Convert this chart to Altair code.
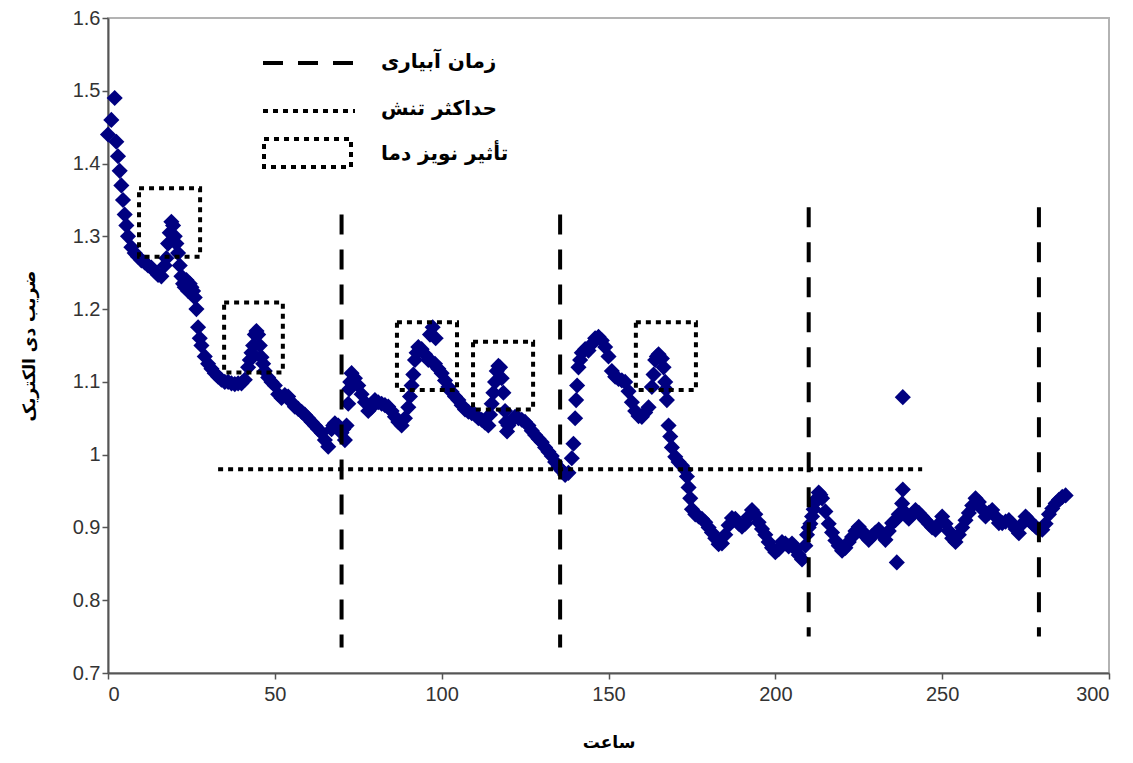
import altair as alt
import pandas as pd

# ---- data ----
hours = [0, 1, 2, 2.5, 3, 4, 5, 6, 7, 8, 9, 10, 11, 12, 13, 14, 15, 16, 17, 18, 19,
         20, 21, 22, 23, 24, 25, 26, 27, 28, 29, 30, 31, 32, 33, 34, 35, 36, 37, 38, 39,
         40, 41, 42, 43, 44, 45, 46, 47, 48, 49, 50, 51, 52, 53, 54, 55, 56, 57, 58, 59,
         60, 61, 62, 63, 64, 65, 66, 67, 68, 69, 70, 71, 72, 73, 74, 75, 76, 77, 78, 79,
         80, 81, 82, 83, 84, 85, 86, 87, 88, 89, 90, 91, 92, 93, 94, 95, 96, 96.5, 97, 97.3, 98, 98.2,
         99, 100, 101, 102, 103, 104, 105, 106, 107, 108, 109, 110, 111, 112, 113, 114, 115, 116, 117, 118, 119, 119.6,
         120, 121, 122, 123, 124, 125, 126, 127, 128, 129, 130, 131, 132, 133, 134, 135, 136, 137, 138, 139,
         140, 141, 142, 143, 144, 145, 146, 147, 148, 149, 150, 151, 152, 153, 154, 155, 156, 157, 158, 159,
         160, 161, 162, 163, 164, 165, 166, 167, 168, 169, 170, 171, 172, 173, 174, 175, 176, 177, 178, 179,
         180, 181, 182, 183, 184, 185, 186, 187, 188, 189, 190, 191, 192, 193, 194, 195, 196, 197, 198, 199,
         200, 201, 202, 203, 204, 205, 206, 207, 208, 209, 210, 211, 212, 213, 214, 215, 216, 217, 218, 219,
         220, 221, 222, 223, 224, 225, 226, 227, 228, 229, 230, 231, 232, 233, 234, 235, 236, 237, 238, 239,
         240, 241, 242, 243, 244, 245, 246, 247, 248, 249, 250, 251, 252, 253, 254, 255, 256, 257, 258, 259,
         260, 261, 262, 263, 264, 265, 266, 267, 268, 269, 270, 271, 272, 273, 274, 275, 276, 277, 278, 279,
         280, 281, 282, 283, 284, 285, 286, 287]
dielectric = [1.44, 1.46, 1.49, 1.43, 1.41, 1.37, 1.33, 1.30, 1.285, 1.277, 1.272, 1.267, 1.264, 1.26, 1.257, 1.252, 1.247, 1.245, 1.26, 1.29, 1.32,
              1.30, 1.277, 1.245, 1.23, 1.225, 1.23, 1.216, 1.175, 1.15, 1.135, 1.125, 1.118, 1.112, 1.107, 1.103, 1.10, 1.10, 1.098, 1.097, 1.098,
              1.098, 1.103, 1.12, 1.14, 1.165, 1.165, 1.134, 1.115, 1.106, 1.10, 1.095, 1.083, 1.078, 1.082, 1.08, 1.072, 1.066, 1.063, 1.059, 1.055,
              1.05, 1.045, 1.04, 1.035, 1.03, 1.02, 1.011, 1.035, 1.043, 1.04, 1.03, 1.02, 1.07, 1.112, 1.105, 1.095, 1.083, 1.072, 1.06, 1.065,
              1.075, 1.072, 1.07, 1.068, 1.066, 1.06, 1.052, 1.045, 1.04, 1.05, 1.065, 1.095, 1.13, 1.148, 1.145, 1.138, 1.13, 1.165, 1.128, 1.175, 1.125, 1.16,
              1.118, 1.112, 1.102, 1.093, 1.086, 1.08, 1.075, 1.068, 1.062, 1.059, 1.057, 1.055, 1.05, 1.048, 1.044, 1.04, 1.07, 1.10, 1.122, 1.105, 1.06, 1.032,
              1.04, 1.047, 1.052, 1.05, 1.048, 1.045, 1.04, 1.033, 1.027, 1.022, 1.017, 1.01, 1.004, 0.998, 0.99, 0.983, 0.978, 0.972, 0.975, 0.995,
              1.05, 1.12, 1.14, 1.145, 1.143, 1.152, 1.16, 1.162, 1.157, 1.148, 1.135, 1.115, 1.107, 1.104, 1.102, 1.10, 1.087, 1.072, 1.06, 1.053,
              1.052, 1.058, 1.065, 1.093, 1.13, 1.138, 1.132, 1.10, 1.04, 1.01, 0.997, 0.99, 0.985, 0.979, 0.955, 0.925, 0.918, 0.915, 0.912, 0.907,
              0.90, 0.893, 0.885, 0.877, 0.878, 0.89, 0.903, 0.913, 0.912, 0.905, 0.901, 0.905, 0.915, 0.924, 0.918, 0.907, 0.898, 0.89, 0.88, 0.872,
              0.866, 0.87, 0.88, 0.878, 0.874, 0.878, 0.87, 0.862, 0.856, 0.875, 0.90, 0.915, 0.935, 0.948, 0.94, 0.922, 0.905, 0.893, 0.882, 0.875,
              0.868, 0.872, 0.88, 0.887, 0.895, 0.901, 0.895, 0.888, 0.883, 0.888, 0.893, 0.897, 0.89, 0.883, 0.895, 0.906, 0.91, 0.918, 0.933, 0.92,
              0.912, 0.918, 0.924, 0.92, 0.915, 0.91, 0.905, 0.90, 0.897, 0.905, 0.915, 0.905, 0.895, 0.885, 0.88, 0.89, 0.90, 0.91, 0.92, 0.93,
              0.94, 0.935, 0.925, 0.915, 0.92, 0.924, 0.915, 0.906, 0.906, 0.908, 0.91, 0.905, 0.898, 0.892, 0.905, 0.915, 0.91, 0.905, 0.901, 0.897,
              0.897, 0.905, 0.918, 0.926, 0.933, 0.938, 0.942, 0.944]
# extra readings where the reference shows dense columns of points (steep parts)
extra_hours = [3.5, 4.5, 5.5, 17.5, 18.5, 19.5, 20.5, 21.5, 22.5, 23.5, 24.5, 25.5, 26.5, 27.5,
               42.5, 43.5, 44.5, 45.5, 46.5, 67.5, 70.5, 71.5, 72.3, 72.6, 90.5, 91.5, 92.5,
               114.5, 115.5, 116.5, 117.5, 118.5, 119.3, 139.5, 140.3, 140.6, 141.5,
               163.5, 164.5, 166.5, 167.2, 167.5, 168.5, 173.5, 174.5,
               209.5, 210.5, 211.5, 212.5, 213.5]
extra_values = [1.39, 1.35, 1.315, 1.27, 1.305, 1.315, 1.29, 1.26, 1.235, 1.24, 1.235, 1.225, 1.20, 1.16,
                1.13, 1.15, 1.17, 1.15, 1.125, 1.04, 1.035, 1.04, 1.09, 1.10, 1.08, 1.11, 1.14,
                1.055, 1.085, 1.115, 1.12, 1.085, 1.045, 1.015, 1.075, 1.095, 1.13,
                1.11, 1.135, 1.12, 1.09, 1.075, 1.025, 0.97, 0.94,
                0.89, 0.905, 0.925, 0.94, 0.945]
outlier_hours = [236.4, 238.2, 238.2]
outlier_values = [0.852, 1.079, 0.952]

irrigation_hours = [70, 135.5, 210, 279]
irrigation_top = [1.33, 1.33, 1.34, 1.34]
irrigation_bottom = [0.735, 0.735, 0.75, 0.75]

stress_level = [0.98]
stress_start = [33]
stress_end = [244]

noise_x1 = [9.3, 34.8, 86.6, 109.4, 158.2]
noise_x2 = [27.6, 52.4, 104.6, 127.4, 176.2]
noise_top = [1.366, 1.209, 1.182, 1.155, 1.182]
noise_bottom = [1.272, 1.113, 1.089, 1.062, 1.089]

legend_labels = ["زمان آبیاری", "حداکثر تنش", "تأثیر نویز دما"]
x_ticks = [0, 50, 100, 150, 200, 250, 300]
y_ticks = [0.7, 0.8, 0.9, 1.0, 1.1, 1.2, 1.3, 1.4, 1.5, 1.6]

x_title = "ساعت"
y_title = "ضریب دی الکتریک"

# ---- tables ----
series_df = pd.DataFrame({
    "hour": hours + extra_hours + outlier_hours,
    "value": dielectric + extra_values + outlier_values,
})
irr_df = pd.DataFrame({"hour": irrigation_hours, "top": irrigation_top, "bottom": irrigation_bottom})
stress_df = pd.DataFrame({"start": stress_start, "end": stress_end, "level": stress_level})
noise_df = pd.DataFrame({"x1": noise_x1, "x2": noise_x2, "top": noise_top, "bottom": noise_bottom})

xs = alt.Scale(domain=[0, 300], nice=False)
ys = alt.Scale(domain=[0.7, 1.6], nice=False)

points = alt.Chart(series_df).mark_point(
    shape="diamond", filled=True, size=260, color="#000080", opacity=1
).encode(
    x=alt.X("hour:Q", scale=xs, axis=alt.Axis(title=x_title, values=x_ticks, labelPadding=5, titlePadding=30)),
    y=alt.Y("value:Q", scale=ys, axis=alt.Axis(title=y_title, values=y_ticks, format=".1~f", titlePadding=34)),
)

irr = alt.Chart(irr_df).mark_rule(color="black", strokeWidth=4, strokeDash=[20, 15]).encode(
    x=alt.X("hour:Q", scale=xs), y=alt.Y("top:Q", scale=ys), y2="bottom:Q"
)

stress = alt.Chart(stress_df).mark_rule(color="black", strokeWidth=4, strokeDash=[5, 5]).encode(
    x=alt.X("start:Q", scale=xs), x2="end:Q", y=alt.Y("level:Q", scale=ys)
)

noise = alt.Chart(noise_df).mark_rect(
    fillOpacity=0, stroke="black", strokeWidth=4, strokeDash=[5, 5]
).encode(
    x=alt.X("x1:Q", scale=xs), x2="x2:Q", y=alt.Y("top:Q", scale=ys), y2="bottom:Q"
)

# ---- legend (drawn manually) ----
def one(label):
    return alt.Chart(pd.DataFrame({"label": [label]}))

leg_dash = one(legend_labels[0]).mark_rule(color="black", strokeWidth=4, strokeDash=[20, 15]).encode(
    x=alt.value(155), x2=alt.value(247), y=alt.value(45)
)
leg_dot = one(legend_labels[1]).mark_rule(color="black", strokeWidth=4, strokeDash=[5, 5]).encode(
    x=alt.value(155), x2=alt.value(247), y=alt.value(93)
)
leg_rect = one(legend_labels[2]).mark_rect(
    fillOpacity=0, stroke="black", strokeWidth=4, strokeDash=[5, 5]
).encode(x=alt.value(156), x2=alt.value(243), y=alt.value(121), y2=alt.value(149))

text_style = dict(font="DejaVu Sans", fontWeight="bold", fontSize=20, align="left", baseline="middle", color="black")
leg_t1 = one(legend_labels[0]).mark_text(**text_style).encode(x=alt.value(273), y=alt.value(44), text="label:N")
leg_t2 = one(legend_labels[1]).mark_text(**text_style).encode(x=alt.value(273), y=alt.value(91), text="label:N")
leg_t3 = one(legend_labels[2]).mark_text(**text_style).encode(x=alt.value(273), y=alt.value(136), text="label:N")

chart = alt.layer(
    points, irr, stress, noise, leg_dash, leg_dot, leg_rect, leg_t1, leg_t2, leg_t3
).properties(
    width=1001, height=655,
    autosize=alt.AutoSizeParams(type="none"),
    padding={"left": 100, "top": 10, "right": 16, "bottom": 80},
).configure_axis(
    grid=False,
    labelFont="Liberation Sans", labelFontSize=20, labelColor="#333333",
    titleFont="DejaVu Sans", titleFontSize=17, titleFontWeight="bold", titleColor="black",
    domainColor="#555555", domainWidth=2, tickColor="#555555", tickWidth=1.5, tickSize=6,
).configure_view(stroke="#b3b3b3", strokeWidth=2)

chart.save("out.html", embed_options={"renderer": "svg", "actions": False})
